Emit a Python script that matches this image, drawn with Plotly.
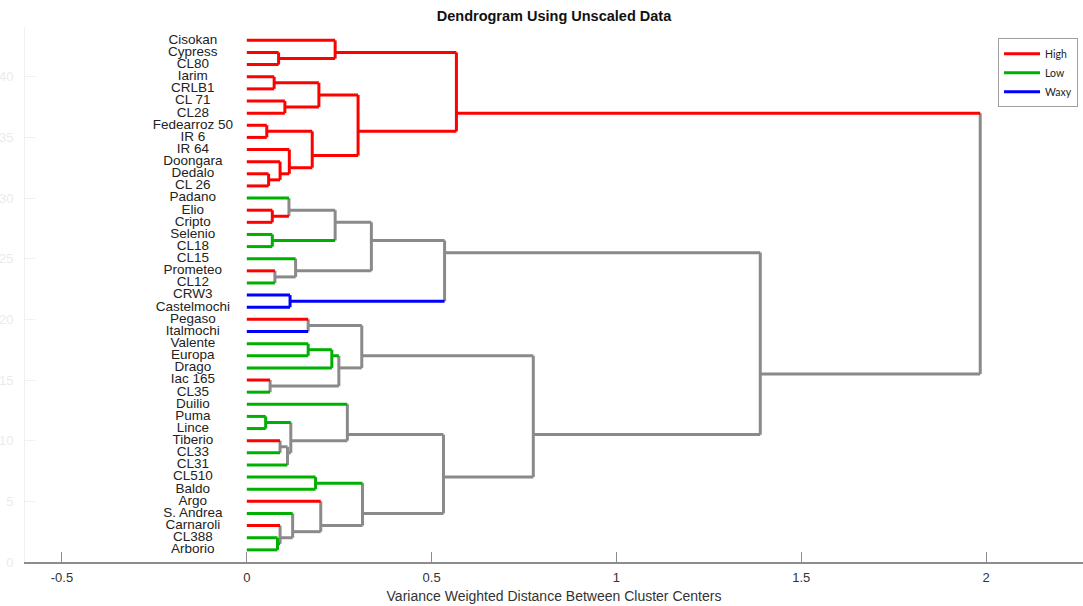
import plotly.graph_objects as go

# ---------------- data ----------------
leaf_names = ["Cisokan", "Cypress", "CL80", "Iarim", "CRLB1", "CL 71", "CL28",
              "Fedearroz 50", "IR 6", "IR 64", "Doongara", "Dedalo", "CL 26",
              "Padano", "Elio", "Cripto", "Selenio", "CL18", "CL15", "Prometeo",
              "CL12", "CRW3", "Castelmochi", "Pegaso", "Italmochi", "Valente",
              "Europa", "Drago", "Iac 165", "CL35", "Duilio", "Puma", "Lince",
              "Tiberio", "CL33", "CL31", "CL510", "Baldo", "Argo", "S. Andrea",
              "Carnaroli", "CL388", "Arborio"]
leaf_class = ["High", "High", "High", "High", "High", "High", "High",
              "High", "High", "High", "High", "High", "High",
              "Low", "High", "High", "Low", "Low", "Low", "High",
              "Low", "Waxy", "Waxy", "High", "Waxy", "Low",
              "Low", "Low", "High", "Low", "Low", "Low", "Low",
              "High", "Low", "Low", "Low", "Low", "High", "Low",
              "High", "Low", "Low"]

# linkage: (child a, child b, merge distance); "#k" refers to the k-th link
link_a = ["Cypress", "Cisokan", "Iarim", "CL 71", "#2", "Fedearroz 50", "Dedalo",
          "Doongara", "IR 64", "#5", "#4", "#1",
          "Elio", "Padano", "Selenio", "#13", "Prometeo", "CL15", "#15", "CRW3", "#18",
          "Pegaso", "Valente", "#22", "Iac 165", "#23", "#21",
          "Puma", "Tiberio", "#28", "#27", "Duilio", "CL510", "CL388", "Carnaroli",
          "S. Andrea", "Argo", "#32", "#31", "#26", "#20", "#11"]
link_b = ["CL80", "#0", "CRLB1", "CL28", "#3", "IR 6", "CL 26",
          "#6", "#7", "#8", "#9", "#10",
          "Cripto", "#12", "CL18", "#14", "CL12", "#16", "#17", "Castelmochi", "#19",
          "Italmochi", "Europa", "Drago", "CL35", "#24", "#25",
          "Lince", "CL33", "CL31", "#29", "#30", "Baldo", "Arborio", "#33",
          "#34", "#35", "#36", "#37", "#38", "#39", "#40"]
link_dist = [0.086, 0.239, 0.074, 0.103, 0.195, 0.054, 0.059,
             0.090, 0.115, 0.177, 0.301, 0.567,
             0.069, 0.114, 0.069, 0.239, 0.076, 0.132, 0.337, 0.117, 0.535,
             0.166, 0.166, 0.230, 0.063, 0.249, 0.311,
             0.051, 0.090, 0.110, 0.119, 0.272, 0.186, 0.083, 0.090,
             0.124, 0.200, 0.313, 0.532, 0.775, 1.389, 1.984]

class_order = ["High", "Low", "Waxy"]
x_tick_vals = [-0.5, 0, 0.5, 1, 1.5, 2]
x_tick_text = ["-0.5", "0", "0.5", "1", "1.5", "2"]
y_tick_vals = [0, 5, 10, 15, 20, 25, 30, 35, 40]

# ---------------- styles ----------------
class_color = {"High": "#FF0000", "Low": "#00B000", "Waxy": "#0000FF"}
mixed_color = "#8A8A8A"
LW = 3

n = len(leaf_names)
leaf_y = {name: n - i for i, name in enumerate(leaf_names)}
leaf_cls = dict(zip(leaf_names, leaf_class))

node = {}  # key -> (height, y, leaves list)
for name in leaf_names:
    node[name] = (0.0, leaf_y[name], [name])


def node_color(leaves):
    cs = {leaf_cls[l] for l in leaves}
    return class_color[cs.pop()] if len(cs) == 1 else mixed_color


segs = {c: ([], []) for c in [mixed_color] + [class_color[k] for k in class_order]}


def add_seg(color, x0, y0, x1, y1):
    xs, ys = segs[color]
    xs += [x0, x1, None]
    ys += [y0, y1, None]


for k, (a, b, d) in enumerate(zip(link_a, link_b, link_dist)):
    ha, ya, la = node[a]
    hb, yb, lb = node[b]
    leaves = la + lb
    ymean = sum(leaf_y[l] for l in leaves) / len(leaves)
    add_seg(node_color(la), ha, ya, d, ya)
    add_seg(node_color(lb), hb, yb, d, yb)
    add_seg(node_color(leaves), d, ya, d, yb)
    node["#%d" % k] = (d, ymean, leaves)

fig = go.Figure()
xs, ys = segs[mixed_color]
fig.add_trace(go.Scatter(x=xs, y=ys, mode="lines", showlegend=False,
                         line=dict(color=mixed_color, width=LW), hoverinfo="skip"))
for cname in class_order:
    col = class_color[cname]
    xs, ys = segs[col]
    fig.add_trace(go.Scatter(x=xs, y=ys, mode="lines", name=cname,
                             line=dict(color=col, width=LW), hoverinfo="skip"))

# leaf labels
label_x = -0.146
fig.add_trace(go.Scatter(x=[label_x] * n, y=[leaf_y[l] for l in leaf_names],
                         mode="text", text=leaf_names, textposition="middle center",
                         textfont=dict(family="Liberation Sans, Arial", size=13.5, color="#222222"),
                         showlegend=False, hoverinfo="skip"))

fig.update_layout(
    width=1083, height=606,
    margin=dict(l=25, r=0, t=27, b=44),
    paper_bgcolor="white", plot_bgcolor="white",
    font=dict(family="Liberation Sans, Arial", color="#333333"),
    title=dict(text="<b>Dendrogram Using Unscaled Data</b>", x=0.5, xanchor="center",
               xref="paper", y=1 - 16 / 606, yanchor="middle",
               font=dict(size=14.5, color="#111111", family="Liberation Sans, Arial")),
    legend=dict(x=0.9953, xanchor="right", y=0.979, yanchor="top",
                bordercolor="#A0A0A0", borderwidth=1, bgcolor="white",
                font=dict(size=10.5, color="#222222", family="Lato, Liberation Sans"),
                itemwidth=36, tracegroupgap=0),
    showlegend=True,
)
fig.update_xaxes(range=[-0.6, 2.262], tickvals=x_tick_vals, ticktext=x_tick_text,
                 showgrid=False, zeroline=False, showline=True, linecolor="#8C8C8C",
                 linewidth=1.5, ticks="inside", ticklen=10, tickcolor="#8C8C8C",
                 tickfont=dict(size=13, color="#333333"), ticklabelstandoff=3,
                 title=dict(text="Variance Weighted Distance Between Cluster Centers",
                            font=dict(size=14, color="#333333"), standoff=7))
fig.update_yaxes(range=[0, 44.1], tickvals=y_tick_vals, showgrid=False, zeroline=False,
                 showline=True, linecolor="#F0F0F0", ticks="inside", ticklen=10,
                 tickcolor="#F0F0F0", tickfont=dict(size=13, color="#EBEBEB"),
                 ticklabelstandoff=8)

fig.write_html("out.html")
